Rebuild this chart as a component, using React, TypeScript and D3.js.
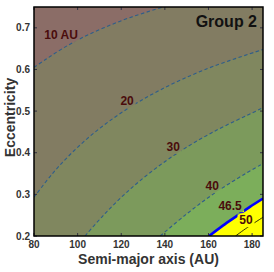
import React from "react";
import * as d3 from "d3";

const xTicks = [80, 100, 120, 140, 160, 180];
const yTicks = [0.2, 0.3, 0.4, 0.5, 0.6, 0.7];
const xDomain = [80, 185];
const yDomain = [0.2, 0.75];

// contour lines: [semi-major axis, eccentricity]
const contour10 = [[80, 0.605], [85.6, 0.625], [93, 0.65], [101.6, 0.675], [112, 0.7], [124.2, 0.725], [139.3, 0.75]];
const contour20 = [[80, 0.293], [88.5, 0.35], [97.4, 0.4], [108.1, 0.45], [121.2, 0.5], [137.6, 0.55], [158.5, 0.6], [185, 0.648]];
const contour30 = [[103.4, 0.2], [111.9, 0.25], [121.5, 0.3], [132.7, 0.35], [146, 0.4], [162.2, 0.45], [181.8, 0.5], [185, 0.508]];
const contour40 = [[137.9, 0.2], [149.3, 0.25], [162, 0.3], [177, 0.35], [185, 0.374]];
const contour465 = [[160.3, 0.2], [166.6, 0.225], [173.5, 0.25], [179, 0.27], [185, 0.29]];
const contour50 = [[172.4, 0.2], [177.7, 0.22], [185, 0.245]];

const contourLevels = ["10 AU", "20", "30", "40", "46.5", "50"];
const contourLines = [contour10, contour20, contour30, contour40, contour465, contour50];
const labelPositions = [[92.4, 0.683], [122.7, 0.524], [143.8, 0.414], [161.7, 0.32], [169.9, 0.274], [177.2, 0.238]];
const bandColors = ["#8b6d67", "#827c62", "#80875f", "#7c9a5c", "#7cae5b", "#ffff00", "#ffff00"];

export default function App() {
  const W = 274, H = 272;
  const L = 34, R = 263, T = 7, B = 236;
  const x = d3.scaleLinear().domain(xDomain).range([L, R]);
  const y = d3.scaleLinear().domain(yDomain).range([B, T]);
  const line = d3.line<number[]>().x((d) => x(d[0])).y((d) => y(d[1])).curve(d3.curveCatmullRom);

  const regionPath = (pts: number[][]) => {
    const p = [...pts];
    const last = p[p.length - 1];
    const first = p[0];
    if (last[1] >= yDomain[1]) p.push([xDomain[1], yDomain[1]]);
    p.push([xDomain[1], yDomain[0]]);
    if (first[0] <= xDomain[0]) p.push([xDomain[0], yDomain[0]]);
    return (line(pts) || "") + p.slice(pts.length).map((q) => `L${x(q[0])},${y(q[1])}`).join("") + "Z";
  };

  const font = "'Liberation Sans', Arial, sans-serif";
  const labelW = [36, 17, 17, 17, 28, 17];

  return (
    <svg width={W} height={H} style={{ position: "absolute", left: 0, top: 0 }} fontFamily={font}>
      <defs>
        <clipPath id="plotClip">
          <rect x={L} y={T} width={R - L} height={B - T} />
        </clipPath>
        <mask id="labelMask" maskUnits="userSpaceOnUse" x={0} y={0} width={W} height={H}>
          <rect x={0} y={0} width={W} height={H} fill="white" />
          {labelPositions.map((p, i) => (
            <rect key={i} x={x(p[0]) - labelW[i] / 2} y={y(p[1]) - 7} width={labelW[i]} height={14} fill="black" />
          ))}
        </mask>
      </defs>
      <g clipPath="url(#plotClip)">
        <rect x={L} y={T} width={R - L} height={B - T} fill={bandColors[0]} />
        {contourLines.map((c, i) => (
          <path key={i} d={regionPath(c)} fill={bandColors[i + 1]} />
        ))}
        <g mask="url(#labelMask)">
          {contourLines.slice(0, 4).map((c, i) => (
            <path key={i} d={line(c) || ""} fill="none" stroke="#2e5e8a" strokeWidth={1.1} strokeDasharray="3.5,2.5" />
          ))}
          <path d={line(contour465) || ""} fill="none" stroke="#0000ff" strokeWidth={2.6} />
          <path d={line(contour50) || ""} fill="none" stroke="#000" strokeWidth={0.8} />
        </g>
        {labelPositions.map((p, i) => (
          <text key={i} x={x(p[0])} y={y(p[1])} dy="0.36em" textAnchor="middle" fontSize={12} fontWeight="bold" fill="#4a0c0c">
            {contourLevels[i]}
          </text>
        ))}
      </g>
      {xTicks.map((t) => (
        <g key={t}>
          <line x1={x(t)} x2={x(t)} y1={B} y2={B - 3} stroke="#334" strokeWidth={1} />
          <line x1={x(t)} x2={x(t)} y1={T} y2={T + 3} stroke="#334" strokeWidth={1} />
          <text x={x(t)} y={B + 12} textAnchor="middle" fontSize={10} fontWeight="bold" fill="#333">{t}</text>
        </g>
      ))}
      {yTicks.map((t) => (
        <g key={t}>
          <line x1={L} x2={L + 3} y1={y(t)} y2={y(t)} stroke="#334" strokeWidth={1} />
          <line x1={R} x2={R - 3} y1={y(t)} y2={y(t)} stroke="#334" strokeWidth={1} />
          <text x={L - 4} y={y(t)} dy="0.35em" textAnchor="end" fontSize={10} fontWeight="bold" fill="#333">{t.toFixed(1)}</text>
        </g>
      ))}
      <rect x={L} y={T} width={R - L} height={B - T} fill="none" stroke="#000" strokeWidth={1.5} />
      <text x={257} y={27} textAnchor="end" fontSize={16} fontWeight="bold" fill="#111">Group 2</text>
      <text x={(L + R) / 2} y={264} textAnchor="middle" fontSize={14} fontWeight="bold" fill="#333">Semi-major axis (AU)</text>
      <text transform={`translate(15,${(T + B) / 2 - 4}) rotate(-90)`} textAnchor="middle" fontSize={14} fontWeight="bold" fill="#333">Eccentricity</text>
    </svg>
  );
}
